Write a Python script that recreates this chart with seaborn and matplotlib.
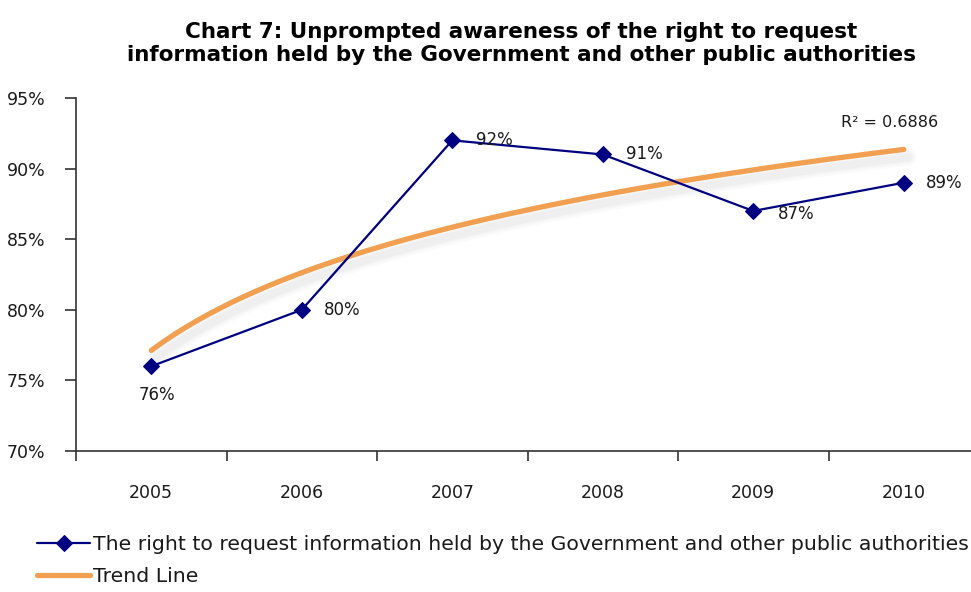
import matplotlib
matplotlib.use("Agg")
import matplotlib.pyplot as plt
import numpy as np
import pandas as pd
import seaborn as sns

# Data
years = ["2005", "2006", "2007", "2008", "2009", "2010"]
awareness = [76, 80, 92, 91, 87, 89]
series_name = "The right to request information held by the Government and other public authorities"
r2_text = "R\u00b2 = 0.6886"

sns.set_style("white")
plt.rcParams["font.family"] = ["DejaVu Sans"]

df = pd.DataFrame({"pos": np.arange(len(years)), "value": awareness})

# logarithmic trend line, as in the spreadsheet
a, b = np.polyfit(np.log(df["pos"] + 1), df["value"], 1)
xt = np.linspace(0, len(years) - 1, 200)
yt = a * np.log(xt + 1) + b

fig = plt.figure(figsize=(9.71, 5.92), dpi=100)
ax = fig.add_axes([76 / 971, 1 - 451 / 592, (979 - 76) / 971, (451 - 98) / 592])

# soft shadow under the trend line
for w, al in [(12, 0.03), (9, 0.04), (6, 0.05)]:
    ax.plot(xt + 0.03, yt - 0.55, color="gray", lw=w, alpha=al, zorder=1,
            solid_capstyle="round")
ax.plot(xt, yt, color="#F0A050", lw=3.8, solid_capstyle="round", zorder=2,
        label="Trend Line")
sns.lineplot(data=df, x="pos", y="value", ax=ax, color="#000080", lw=1.6,
             marker="D", markersize=8, markeredgecolor="#000080",
             label=series_name, zorder=3, legend=False)

# value labels (offsets in points)
offsets = [(4, -21), (29, 0), (30, 0), (30, 0), (31, -2), (29, 0)]
for i, (v, off) in enumerate(zip(awareness, offsets)):
    ax.annotate(f"{v}%", (i, v), xytext=off, textcoords="offset points",
                ha="center", va="center", fontsize=12, color="#1a1a1a")

ax.text(4.58, 93.3, r2_text, fontsize=11.5, color="#1a1a1a", ha="left", va="center")

ax.set_xlim(-0.5, len(years) - 0.5)
ax.set_ylim(70, 95)
ax.set_yticks(np.arange(70, 96, 5))
ax.set_yticklabels([f"{t}%" for t in range(70, 96, 5)])
ax.set_xticks(np.arange(len(years)))
ax.set_xticklabels(years)
ax.set_xticks(np.arange(-0.5, len(years)), minor=True)
ax.tick_params(axis="x", which="major", bottom=True, length=0, pad=24, labelsize=12.5,
               labelcolor="#1a1a1a")
ax.tick_params(axis="x", which="minor", bottom=True, length=7, width=1.2, color="#333333",
               direction="out")
ax.tick_params(axis="y", left=True, length=8, width=1.2, color="#333333", direction="out",
               pad=14, labelsize=12.5, labelcolor="#1a1a1a")
ax.set_xlabel("")
ax.set_ylabel("")
for s in ["top", "right"]:
    ax.spines[s].set_visible(False)
for s in ["left", "bottom"]:
    ax.spines[s].set_color("#333333")
    ax.spines[s].set_linewidth(1.2)

fig.text(0.537, 0.963, "Chart 7: Unprompted awareness of the right to request\n"
         "information held by the Government and other public authorities",
         ha="center", va="top", fontsize=15.5, fontweight="bold", linespacing=1.2,
         color="black")

handles, labels = ax.get_legend_handles_labels()
order = [labels.index(series_name), labels.index("Trend Line")]
fig.legend([handles[i] for i in order], [labels[i] for i in order],
           loc="upper left", bbox_to_anchor=(0.03, 0.11),
           frameon=False, fontsize=14.7, handlelength=2.6, handletextpad=0.15,
           labelspacing=0.65, borderaxespad=0, labelcolor="#1a1a1a")

fig.savefig("out.png", dpi=100)
